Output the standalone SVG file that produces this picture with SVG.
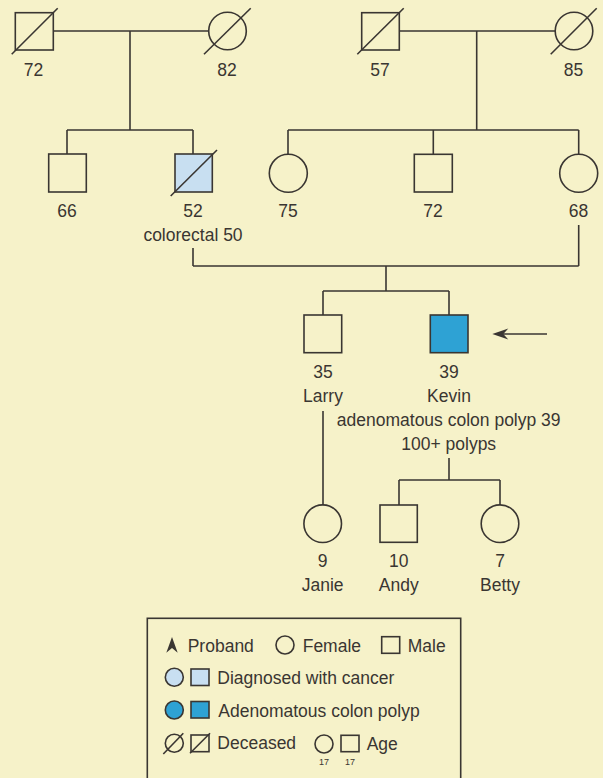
<svg xmlns="http://www.w3.org/2000/svg" width="603" height="778" viewBox="0 0 603 778">
<style>
.bg{fill:#f6f2c9}
.ln{fill:none;stroke:#3a3632;stroke-width:1.6}
.sh{fill:none;stroke:#3a3632;stroke-width:1.6}
.lb{fill:#c8dff1}
.bl{fill:#2ea2d4}
text{font-family:"Liberation Sans",Arial,sans-serif;font-size:17.5px;fill:#3a3632;text-anchor:middle}
.lg{text-anchor:start}
.sm{font-size:9px}
</style>
<rect class="bg" x="0" y="0" width="603" height="778"/>
<g id="connectors">
<path class="ln" d="M53,31H209 M130,31V130 M67,130H193 M67,130V154 M193,130V154"/>
<path class="ln" d="M399,31H555 M476.7,31V130 M288,130H578.7 M288,130V154 M433.3,130V154 M578.7,130V154"/>
<path class="ln" d="M578.7,225V266 M193,248V266 M193,266H578.7 M386,266V291 M323,291H449 M323,291V315 M449,291V315"/>
<path class="ln" d="M323,411V505 M449,458V480 M399,480H500 M399,480V505 M500,480V505"/>
<path class="ln" d="M547,334H500"/>
<polygon points="492.3,334 508.3,328.5 503.3,334 508.3,339.5" fill="#3a3632"/>
</g>
<g id="gf1">
<rect class="sh" x="15.3" y="12.7" width="38" height="37.3"/>
<line class="ln" x1="11.7" y1="54.3" x2="57.7" y2="8.3"/>
<text x="33.5" y="76">72</text>
</g>
<g id="gm1">
<circle class="sh" cx="227.5" cy="31" r="18.8"/>
<line class="ln" x1="204" y1="54.3" x2="250.7" y2="8.3"/>
<text x="227" y="76">82</text>
</g>
<g id="gf2">
<rect class="sh" x="361.7" y="12.7" width="37.6" height="37.3"/>
<line class="ln" x1="357.3" y1="54.3" x2="403.7" y2="8.3"/>
<text x="380" y="76">57</text>
</g>
<g id="gm2">
<circle class="sh" cx="574" cy="31" r="18.8"/>
<line class="ln" x1="550.7" y1="54.3" x2="596.7" y2="8.3"/>
<text x="573.5" y="76">85</text>
</g>
<g id="u66">
<rect class="sh" x="48.7" y="154" width="37.6" height="38"/>
<text x="67" y="216.5">66</text>
</g>
<g id="father">
<rect class="sh lb" x="175" y="154" width="37.3" height="38" style="stroke:#3a3632;stroke-width:1.6"/>
<line class="ln" x1="170.7" y1="196" x2="217" y2="150"/>
<text x="193" y="216.5">52</text>
<text x="193" y="240.5">colorectal 50</text>
</g>
<g id="a75">
<circle class="sh" cx="288.3" cy="173.3" r="19"/>
<text x="288" y="216.5">75</text>
</g>
<g id="u72">
<rect class="sh" x="414.3" y="154.3" width="38" height="37.7"/>
<text x="433" y="216.5">72</text>
</g>
<g id="mother">
<circle class="sh" cx="578.7" cy="173.3" r="19"/>
<text x="578.5" y="216.5">68</text>
</g>
<g id="larry">
<rect class="sh" x="304" y="315" width="37.7" height="37.7"/>
<text x="323" y="378">35</text>
<text x="323" y="401.5">Larry</text>
</g>
<g id="kevin">
<rect class="sh bl" x="430.3" y="315" width="37.7" height="37.7" style="stroke:#3a3632;stroke-width:1.6"/>
<text x="449" y="378">39</text>
<text x="449" y="401.5">Kevin</text>
<text x="448.7" y="426">adenomatous colon polyp 39</text>
<text x="448.7" y="449.5">100+ polyps</text>
</g>
<g id="janie">
<circle class="sh" cx="322.7" cy="523.7" r="18.8"/>
<text x="322.7" y="567">9</text>
<text x="322.7" y="591">Janie</text>
</g>
<g id="andy">
<rect class="sh" x="380" y="505" width="37.3" height="37.3"/>
<text x="398.7" y="567">10</text>
<text x="398.7" y="591">Andy</text>
</g>
<g id="betty">
<circle class="sh" cx="500" cy="523.7" r="18.8"/>
<text x="500" y="567">7</text>
<text x="500" y="591">Betty</text>
</g>
<g id="legend">
<rect class="sh" x="147.3" y="618.3" width="313.4" height="180"/>
<polygon points="172,637 177.7,652.7 172,648 166.3,652.7" fill="#3a3632"/>
<text class="lg" x="187.7" y="651.7">Proband</text>
<circle class="sh" cx="285" cy="645" r="9"/>
<text class="lg" x="302.7" y="651.7">Female</text>
<rect class="sh" x="381.7" y="636.7" width="18" height="16.6"/>
<text class="lg" x="407.7" y="651.7">Male</text>
<circle class="sh lb" cx="174.3" cy="677.3" r="9" style="stroke:#3a3632;stroke-width:1.6"/>
<rect class="sh lb" x="191" y="669" width="18" height="16.5" style="stroke:#3a3632;stroke-width:1.6"/>
<text class="lg" x="217.3" y="684">Diagnosed with cancer</text>
<circle class="sh bl" cx="174.3" cy="710" r="9" style="stroke:#3a3632;stroke-width:1.6"/>
<rect class="sh bl" x="191" y="701.5" width="18" height="16.5" style="stroke:#3a3632;stroke-width:1.6"/>
<text class="lg" x="218.3" y="716.5">Adenomatous colon polyp</text>
<circle class="sh" cx="174.3" cy="743.3" r="9"/>
<line class="ln" x1="163.3" y1="754" x2="183.3" y2="733.3"/>
<rect class="sh" x="191" y="735" width="18" height="16.7"/>
<line class="ln" x1="190" y1="753.3" x2="210" y2="733.3"/>
<text class="lg" x="217.3" y="748.5">Deceased</text>
<circle class="sh" cx="324" cy="744" r="9"/>
<rect class="sh" x="341" y="735.3" width="18" height="16.4"/>
<text class="sm" x="324" y="764.5">17</text>
<text class="sm" x="350" y="764.5">17</text>
<text class="lg" x="366.7" y="749.5">Age</text>
</g>
</svg>
